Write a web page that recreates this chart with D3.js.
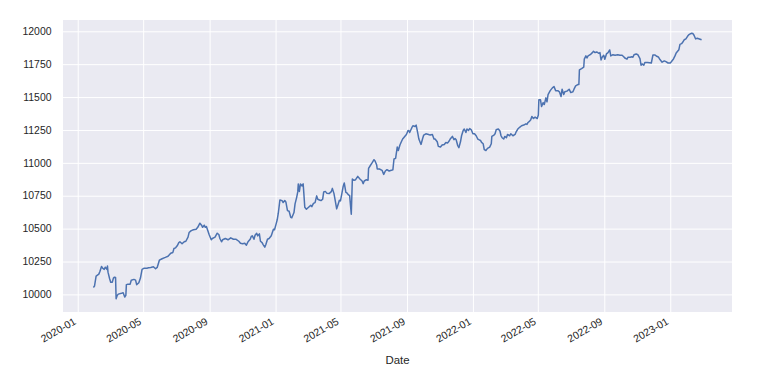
<!DOCTYPE html>
<html>
<head>
<meta charset="utf-8">
<script src="https://cdn.jsdelivr.net/npm/d3@7"></script>
<style>
  body { margin: 0; background: #fff; }
  svg text { font-family: "Liberation Sans", Arial, sans-serif; fill: #262626; }
</style>
</head>
<body>
<svg width="773" height="386"></svg>
<script>
// values, one pair of arrays per year
const dates2020 = ["01-30","02-01","02-04","02-09","02-11","02-14","02-16","02-19","02-21","02-24","02-25","02-26","02-29",
  "03-02","03-05","03-07","03-09","03-11","03-12","03-14","03-16","03-22","03-25","03-28","03-30","03-31",
  "04-03","04-07","04-09","04-14","04-17","04-19","04-23","04-26","04-29","05-03","05-08","05-11","05-15","05-20","05-24","05-27","05-31",
  "06-05","06-11","06-16","06-21","06-25","06-27","06-30","07-03","07-06","07-08","07-12","07-16","07-19","07-23","07-25","07-29",
  "08-02","08-07","08-10","08-14","08-17","08-19","08-22","08-24","08-26","08-29","08-31","09-04","09-06","09-11","09-15","09-18","09-20","09-23","09-25","09-30",
  "10-05","10-10","10-15","10-20","10-25","10-28","11-01","11-05","11-08","11-11","11-15","11-17","11-19","11-22","11-24","11-27","11-29",
  "12-02","12-04","12-07","12-09","12-12","12-14","12-17","12-20","12-24","12-28","12-30"];
const values2020 = [10053,10063,10139,10154,10174,10212,10199,10190,10207,10190,10215,10169,10119,
  10093,10093,10124,10131,10129,9967,9992,10002,10008,10013,9980,9992,10074,
  10078,10078,10108,10114,10108,10074,10089,10124,10190,10199,10199,10202,10205,10210,10195,10205,10260,
  10271,10281,10290,10313,10319,10349,10354,10369,10394,10400,10385,10400,10404,10435,10470,10485,
  10491,10495,10510,10541,10526,10510,10526,10510,10516,10480,10455,10415,10425,10435,10465,10455,10425,10400,10415,10425,
  10415,10430,10419,10419,10404,10389,10385,10389,10374,10400,10419,10440,10445,10419,10450,10465,10445,
  10460,10404,10394,10379,10359,10379,10419,10425,10445,10495,10491];

const dates2021 = ["01-02","01-04","01-06","01-09","01-13","01-15","01-18","01-20","01-23","01-26","01-29","01-31",
  "02-04","02-06","02-09","02-11","02-12","02-14","02-16","02-19","02-21","02-22","02-24","02-27",
  "03-03","03-07","03-09","03-12","03-15","03-18","03-20","03-23","03-26","03-29","03-31",
  "04-03","04-06","04-10","04-14","04-16","04-19","04-21","04-24","04-26","04-29",
  "05-01","05-04","05-06","05-08","05-11","05-13","05-16","05-18","05-21","05-23","05-26","05-29",
  "06-02","06-06","06-10","06-12","06-14","06-18","06-21","06-22","06-25","06-29",
  "07-02","07-04","07-07","07-08","07-12","07-17","07-20","07-23","07-26","07-30",
  "08-03","08-06","08-08","08-11","08-14","08-16","08-19","08-21","08-24","08-26","08-29","08-31",
  "09-03","09-05","09-06","09-10","09-12","09-16","09-18","09-21","09-23","09-27","09-30",
  "10-02","10-06","10-11","10-14","10-18","10-21","10-23","10-27","10-29",
  "11-02","11-05","11-09","11-12","11-15","11-18","11-20","11-24","11-27","11-29",
  "12-01","12-04","12-06","12-09","12-11","12-14","12-16","12-19","12-21","12-24","12-26","12-29"];
const values2021 = [10536,10567,10617,10718,10713,10698,10713,10703,10637,10632,10586,10582,
  10622,10688,10738,10779,10840,10783,10840,10824,10840,10783,10662,10647,
  10662,10677,10667,10692,10698,10749,10723,10718,10713,10723,10779,
  10783,10768,10766,10781,10806,10766,10720,10650,10675,10715,
  10711,10776,10821,10847,10776,10771,10756,10751,10609,10877,10867,10872,
  10897,10877,10862,10842,10862,10872,10867,10958,10978,11003,
  11024,11014,10984,10953,10953,10943,10912,10938,10948,10938,
  10943,10948,11029,11034,11120,11094,11135,11155,11181,11191,11206,11216,
  11246,11242,11231,11267,11282,11276,11287,11226,11181,11140,11185,
  11211,11221,11216,11211,11216,11181,11181,11160,11125,
  11120,11135,11140,11155,11150,11166,11181,11201,11176,11185,
  11176,11130,11115,11160,11206,11246,11257,11231,11257,11246,11261,11251];

const dates2022 = ["01-01","01-04","01-07","01-10","01-12","01-15","01-17","01-20","01-22","01-25","01-28",
  "02-01","02-04","02-05","02-09","02-11","02-13","02-17","02-20","02-22","02-24","02-27",
  "03-01","03-04","03-06","03-10","03-12","03-16","03-20","03-22","03-25","03-29",
  "04-01","04-05","04-09","04-11","04-13","04-16","04-18","04-20","04-23","04-26","04-30",
  "05-02","05-03","05-06","05-08","05-11","05-13","05-16","05-18","05-20","05-24","05-28","05-31",
  "06-03","06-07","06-10","06-13","06-15","06-18","06-20","06-24","06-28",
  "07-01","07-05","07-07","07-10","07-14","07-16","07-17","07-21","07-25","07-26","07-29","07-31",
  "08-02","08-06","08-10","08-12","08-15","08-18","08-22","08-24","08-26","08-28","08-31",
  "09-02","09-05","09-08","09-11","09-13","09-17","09-21","09-26","09-30",
  "10-04","10-07","10-09","10-13","10-15","10-19","10-22","10-24","10-26","10-30",
  "11-02","11-04","11-06","11-08","11-10","11-13","11-15","11-20","11-27","11-30",
  "12-04","12-07","12-10","12-13","12-17","12-21","12-24","12-28"];
const values2022 = [11221,11221,11206,11181,11176,11170,11155,11145,11100,11094,11110,
  11120,11145,11201,11211,11221,11251,11257,11242,11206,11191,11181,
  11201,11191,11216,11206,11221,11206,11216,11236,11257,11272,
  11282,11287,11297,11292,11307,11317,11327,11352,11337,11348,11337,
  11363,11479,11479,11428,11458,11443,11494,11464,11519,11549,11570,11580,
  11549,11549,11540,11504,11560,11519,11540,11545,11560,
  11534,11540,11560,11585,11595,11595,11706,11716,11727,11788,11813,11797,
  11813,11822,11838,11848,11838,11843,11833,11838,11782,11803,11818,
  11788,11828,11838,11858,11813,11822,11818,11822,11818,
  11818,11807,11797,11788,11803,11803,11807,11803,11822,11828,
  11822,11807,11792,11742,11752,11742,11762,11762,11759,11820,
  11820,11810,11805,11785,11765,11775,11769,11759];

const dates2023 = ["01-01","01-03","01-07","01-10","01-12","01-15","01-17","01-19","01-22","01-24","01-27","01-30",
  "02-02","02-04","02-07","02-09","02-12","02-14","02-17","02-20","02-24","02-28"];
const values2023 = [11759,11769,11790,11815,11835,11850,11860,11901,11906,11916,11936,11942,
  11962,11972,11980,11985,11983,11970,11942,11947,11942,11936];

const xTickLabels = ["2020-01","2020-05","2020-09","2021-01","2021-05","2021-09","2022-01","2022-05","2022-09","2023-01"];
const yTickLabels = [10000,10250,10500,10750,11000,11250,11500,11750,12000];

const parse = d3.timeParse("%Y-%m-%d");
const data = [];
[[2020, dates2020, values2020], [2021, dates2021, values2021],
 [2022, dates2022, values2022], [2023, dates2023, values2023]].forEach(function(yr) {
    yr[1].forEach(function(md, i) {
        data.push({ date: parse(yr[0] + "-" + md), value: yr[2][i] });
    });
});

var svg = d3.select("svg"),
    plotLeft = 63, plotRight = 732, plotTop = 20, plotBottom = 312;

// matplotlib style 5% margins around the data
var tExt = d3.extent(data, d => d.date),
    tPad = (tExt[1] - tExt[0]) * 0.05,
    vExt = d3.extent(data, d => d.value),
    vPad = (vExt[1] - vExt[0]) * 0.05;

var xScale = d3.scaleTime()
    .domain([new Date(+tExt[0] - tPad), new Date(+tExt[1] + tPad)])
    .range([plotLeft, plotRight]);
var yScale = d3.scaleLinear()
    .domain([vExt[0] - vPad, vExt[1] + vPad])
    .range([plotBottom, plotTop]);

svg.append("rect")
    .attr("x", plotLeft).attr("y", plotTop)
    .attr("width", plotRight - plotLeft).attr("height", plotBottom - plotTop)
    .attr("fill", "#eaeaf2");

var xTicks = xTickLabels.map(s => d3.timeParse("%Y-%m")(s));

// grid
svg.append("g")
    .attr("transform", "translate(0," + plotBottom + ")")
    .call(d3.axisBottom(xScale).tickValues(xTicks).tickSize(-(plotBottom - plotTop)).tickFormat(""))
    .call(g => g.select(".domain").remove())
    .selectAll("line").attr("stroke", "#fff").attr("stroke-width", 1);

svg.append("g")
    .attr("transform", "translate(" + plotLeft + ",0)")
    .call(d3.axisLeft(yScale).tickValues(yTickLabels).tickSize(-(plotRight - plotLeft)).tickFormat(""))
    .call(g => g.select(".domain").remove())
    .selectAll("line").attr("stroke", "#fff").attr("stroke-width", 1);

// tick labels
svg.append("g").selectAll("text").data(yTickLabels)
    .enter().append("text")
    .attr("x", plotLeft - 11.5)
    .attr("y", d => yScale(d))
    .attr("dy", "0.35em")
    .attr("text-anchor", "end")
    .attr("font-size", "10.45px")
    .text(d => d);

svg.append("g").selectAll("text").data(xTicks)
    .enter().append("text")
    .attr("transform", d => "translate(" + (xScale(d) - 1) + "," + (plotBottom + 11.5) + ") rotate(-30)")
    .attr("text-anchor", "end")
    .attr("font-size", "10.45px")
    .text((d, i) => xTickLabels[i]);

svg.append("text")
    .attr("x", (plotLeft + plotRight) / 2)
    .attr("y", 364)
    .attr("text-anchor", "middle")
    .attr("font-size", "11.4px")
    .text("Date");

var line = d3.line()
    .x(d => xScale(d.date))
    .y(d => yScale(d.value));

svg.append("path")
    .datum(data)
    .attr("d", line)
    .attr("fill", "none")
    .attr("stroke", "#4c72b0")
    .attr("stroke-width", 1.5)
    .attr("stroke-linejoin", "round");
</script>
</body>
</html>
